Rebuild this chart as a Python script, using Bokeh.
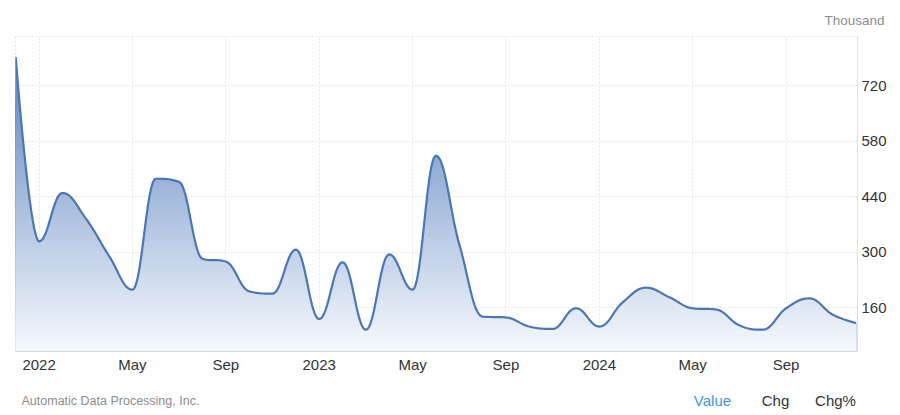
import numpy as np
from bokeh.plotting import figure
from bokeh.layouts import column
from bokeh.models import Range1d, FixedTicker, LinearAxis, Title
from bokeh.core.properties import value
from bokeh.embed import file_html
from bokeh.resources import INLINE

# ---- data (thousand) ----
months = ["2021-12",
          "2022-01", "2022-02", "2022-03", "2022-04", "2022-05", "2022-06",
          "2022-07", "2022-08", "2022-09", "2022-10", "2022-11", "2022-12",
          "2023-01", "2023-02", "2023-03", "2023-04", "2023-05", "2023-06",
          "2023-07", "2023-08", "2023-09", "2023-10", "2023-11", "2023-12",
          "2024-01", "2024-02", "2024-03", "2024-04", "2024-05", "2024-06",
          "2024-07", "2024-08", "2024-09", "2024-10", "2024-11", "2024-12"]
values = [792,
          327, 449, 385, 290, 205, 485,
          477, 283, 276, 201, 195, 306,
          131, 274, 104, 294, 205, 543,
          320, 137, 135, 112, 106, 158,
          112, 173, 210, 186, 158, 155,
          115, 104, 158, 183, 142, 121]
tick_months = ["2022-01", "2022-05", "2022-09", "2023-01", "2023-05",
               "2023-09", "2024-01", "2024-05", "2024-09"]
tick_labels = ["2022", "May", "Sep", "2023", "May", "Sep", "2024", "May", "Sep"]
y_ticks = [160, 300, 440, 580, 720]
unit_text = "Thousand"
source_text = "Automatic Data Processing, Inc."
tab_texts = ["Value", "Chg", "Chg%"]

FONT = "Liberation Sans"


def month_index(m):
    y, mo = m.split("-")
    return (int(y) - 2022) * 12 + int(mo) - 1


xs = np.array([month_index(m) for m in months], dtype=float)
ys = np.array(values, dtype=float)


def spline(xs, ys, smoothing=1.5, n=24):
    """Highcharts-style spline rendering of the data points."""
    denom = smoothing + 1
    N = len(xs)
    lc = [None] * N
    rc = [None] * N
    for i in range(N):
        px, py = xs[i], ys[i]
        if i == 0 or i == N - 1:
            lc[i] = rc[i] = (px, py)
            continue
        lx, ly = xs[i - 1], ys[i - 1]
        nx, ny = xs[i + 1], ys[i + 1]
        lcx = (smoothing * px + lx) / denom
        lcy = (smoothing * py + ly) / denom
        rcx = (smoothing * px + nx) / denom
        rcy = (smoothing * py + ny) / denom
        if rcx != lcx:
            corr = ((rcy - lcy) * (rcx - px)) / (rcx - lcx) + py - rcy
            lcy += corr
            rcy += corr
        if lcy > ly and lcy > py:
            lcy = max(ly, py)
            rcy = 2 * py - lcy
        elif lcy < ly and lcy < py:
            lcy = min(ly, py)
            rcy = 2 * py - lcy
        if rcy > ny and rcy > py:
            rcy = max(ny, py)
            lcy = 2 * py - rcy
        elif rcy < ny and rcy < py:
            rcy = min(ny, py)
            lcy = 2 * py - rcy
        lc[i] = (lcx, lcy)
        rc[i] = (rcx, rcy)
    outx, outy = [xs[0]], [ys[0]]
    t = np.linspace(0, 1, n + 1)[1:]
    for i in range(1, N):
        p0 = np.array([xs[i - 1], ys[i - 1]])
        p1 = np.array(rc[i - 1])
        p2 = np.array(lc[i])
        p3 = np.array([xs[i], ys[i]])
        b = ((1 - t) ** 3)[:, None] * p0 + (3 * (1 - t) ** 2 * t)[:, None] * p1 \
            + (3 * (1 - t) * t ** 2)[:, None] * p2 + (t ** 3)[:, None] * p3
        outx.extend(b[:, 0])
        outy.extend(b[:, 1])
    return np.array(outx), np.array(outy)


cx, cy = spline(xs, ys)

Y0, Y1 = 49, 844
W = 900

# ---- main chart ----
p = figure(width=W, height=380, output_backend="svg", toolbar_location=None,
           x_range=Range1d(-1.01, 35.06), y_range=Range1d(Y0, Y1),
           y_axis_location=None,
           min_border_left=15, min_border_right=43, min_border_top=36,
           min_border_bottom=29)
p.background_fill_color = "white"
p.border_fill_color = "white"
p.outline_line_color = "#e3e3e3"
p.outline_line_dash = "2 2"

p.add_layout(Title(text=unit_text, align="right", offset=-27, standoff=18,
                   text_font=FONT, text_font_size="13.5px", text_font_style="normal",
                   text_color="#8c8c8c"), "above")

# gradient fill via stacked bands
nb = 60
levels = np.linspace(Y0, Y1, nb + 1)
top = np.array([80, 122, 186])
bot = np.array([246, 249, 253])
for k in range(nb - 1, -1, -1):
    f = (levels[k] + levels[k + 1]) / 2
    frac = (f - Y0) / (Y1 - Y0)
    c = bot + (top - bot) * frac
    col = "#%02x%02x%02x" % tuple(int(round(v)) for v in c)
    y2 = np.minimum(cy, levels[k + 1])
    p.varea(x=cx, y1=np.full_like(cx, Y0), y2=y2, fill_color=col, fill_alpha=1.0)

p.line(cx, cy, line_color="#4a77b4", line_width=2.2)

# x axis
tick_pos = [month_index(m) for m in tick_months]
xa = p.xaxis[0]
xa.ticker = FixedTicker(ticks=tick_pos)
xa.major_label_overrides = {t: l for t, l in zip(tick_pos, tick_labels)}
xa.axis_line_color = "#d6d6d6"
xa.major_tick_line_color = None
xa.minor_tick_line_color = None
xa.major_tick_out = 0
xa.major_tick_in = 0
xa.minor_tick_out = 0
xa.minor_tick_in = 0
xa.major_label_text_font = FONT
xa.major_label_text_font_size = "15px"
xa.major_label_text_color = "#333333"
xa.major_label_standoff = 4

# y axis on the right
ya = LinearAxis(ticker=FixedTicker(ticks=y_ticks))
ya.axis_line_color = "#e0e0e0"
ya.major_tick_line_color = None
ya.minor_tick_line_color = None
ya.major_tick_out = 0
ya.major_tick_in = 0
ya.minor_tick_out = 0
ya.minor_tick_in = 0
ya.major_label_text_font = FONT
ya.major_label_text_font_size = "15px"
ya.major_label_text_color = "#333333"
ya.major_label_standoff = 4
p.add_layout(ya, "right")

p.xgrid.ticker = FixedTicker(ticks=tick_pos)
p.ygrid.ticker = FixedTicker(ticks=y_ticks)
for g in (p.xgrid[0], p.ygrid[0]):
    g.grid_line_color = "#e4e4e4"
    g.grid_line_dash = "2 2"
    g.grid_line_width = 1
    g.level = "underlay"

# ---- footer (frame aligned with main frame: 15..857 px) ----
footer = figure(width=W, height=35, output_backend="svg", toolbar_location=None,
                x_range=Range1d(15, 857), y_range=Range1d(0, 35),
                x_axis_location=None, y_axis_location=None,
                min_border_left=15, min_border_right=43, min_border_top=0,
                min_border_bottom=0)
footer.grid.visible = False
footer.outline_line_color = None
footer.background_fill_color = "white"
footer.border_fill_color = "white"
footer.text(x=[21], y=[15], text=[source_text], text_align="left",
            text_baseline="middle", text_font=value(FONT),
            text_font_size="12.5px", text_color="#8c8c8c")
footer.text(x=[712], y=[15], text=[tab_texts[0]], text_align="center",
            text_baseline="middle", text_font=value(FONT),
            text_font_size="15px", text_color="#3d97dc")
footer.text(x=[775, 835], y=[15, 15], text=tab_texts[1:], text_align="center",
            text_baseline="middle", text_font=value(FONT),
            text_font_size="15px", text_color="#333333")

layout = column(p, footer, spacing=0)
open("out.html", "w").write(file_html(layout, INLINE))
